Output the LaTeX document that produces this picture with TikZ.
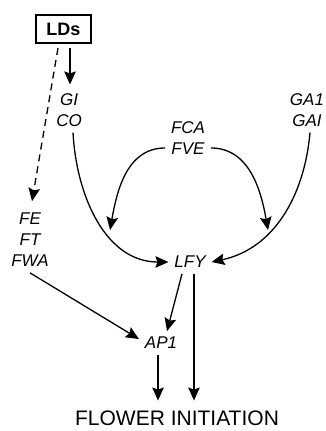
\documentclass[tikz,border=0pt]{standalone}
\usepackage{fontspec}
\setmainfont{Liberation Sans}
\usetikzlibrary{arrows.meta}

\begin{document}
\begin{tikzpicture}[x=1pt, y=-1pt, >={Stealth[length=13pt, width=11.5pt, inset=2pt]}, line width=1.3pt,
	gene/.style={font=\fontsize{17}{21}\selectfont\itshape, align=center, inner sep=2pt, outer sep=4pt}]
	\useasboundingbox (0, 0) rectangle (325, 431);
	\node[draw, font=\fontsize{18}{22}\selectfont\bfseries, minimum width=55pt, minimum height=28pt, inner sep=0pt, outer sep=5pt] (lds) at (63.5, 29) {LDs};
	\node[gene] (gico) at (69, 110) {GI\\CO};
	\node[gene] (fcafve) at (188, 138) {FCA\\FVE};
	\node[gene] (gagai) at (307, 110) {GA1\\GAI};
	\node[gene] (fefwa) at (30, 240) {FE\\FT\\FWA};
	\node[gene] (lfy) at (190, 262) {LFY};
	\node[gene] (apone) at (161, 343) {AP1};
	\node[font=\fontsize{21}{25}\selectfont, inner sep=2pt, outer sep=8pt] (flower) at (177, 418) {FLOWER INITIATION};
	\coordinate (cohit) at (110, 230);
	\coordinate (gahit) at (268, 230);
	\draw[->] ([xshift=6.5pt]lds.south) -- ([xshift=6.5pt, yshift=3pt]lds.south |- gico.north);
	\draw[->, dash pattern=on 7pt off 5pt] ([xshift=-5.5pt]lds.south) -- ([xshift=2pt, yshift=6pt]fefwa.north);
	\draw[->] ([xshift=4pt]gico.south) to[out=-87, in=180] (lfy.west);
	\draw[->] ([xshift=3pt]gagai.south) to[out=-95, in=12] (lfy.east);
	\draw[->] ([yshift=-10pt]fcafve.west) to[out=180, in=80] (cohit);
	\draw[->] ([yshift=-10pt]fcafve.east) to[out=0, in=100] (gahit);
	\draw[->] (fefwa.south) -- ([yshift=4pt]apone.west);
	\draw[->] ([xshift=-8pt]lfy.south) -- ([xshift=6pt]apone.north);
	\draw[->] ([xshift=4pt]lfy.south) -- ([xshift=4pt]lfy.south |- flower.north);
	\draw[->] ([xshift=-3pt]apone.south) -- ([xshift=-3pt]apone.south |- flower.north);
\end{tikzpicture}
\end{document}
